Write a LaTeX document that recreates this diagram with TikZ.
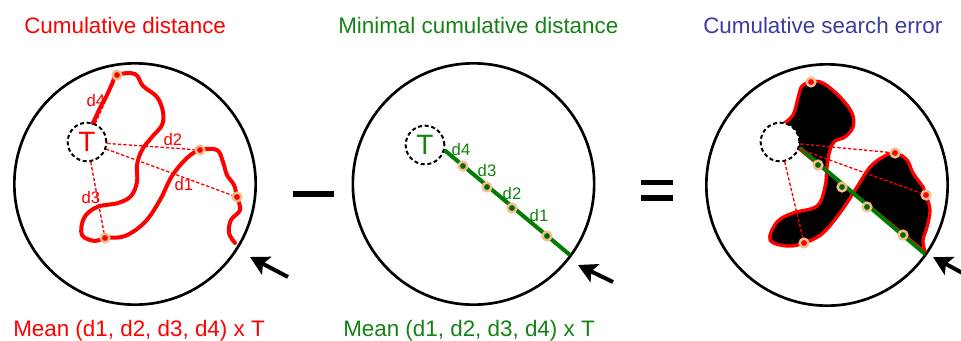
\documentclass[tikz,border=0pt]{standalone}
\usepackage{fontspec}
\setmainfont{Liberation Sans}
\usetikzlibrary{arrows.meta,positioning}
\definecolor{myred}{RGB}{255,0,0}
\definecolor{mygreen}{RGB}{20,130,20}
\definecolor{lgreen}{RGB}{0,125,0}
\definecolor{myblue}{RGB}{60,60,160}
\definecolor{peach}{RGB}{245,190,140}

\tikzset{
  zone/.style={circle,draw,line width=2pt,minimum size=181pt,inner sep=0pt},
  target/.style={circle,draw,dash pattern=on 3pt off 2pt,line width=1.5pt,
    minimum size=29pt,inner sep=0pt,font=\fontsize{21}{21}\selectfont},
  reddot/.style={circle,fill=myred,draw=peach,line width=1.8pt,minimum size=6.5pt,inner sep=0pt},
  greendot/.style={circle,fill=lgreen!85!black,draw=peach,line width=1.8pt,minimum size=6.5pt,inner sep=0pt},
  dist/.style={myred,line width=1pt,dash pattern=on 2.5pt off 1.5pt},
  dlabel/.style={font=\fontsize{12.5}{13}\selectfont,inner sep=0pt},
  pointer/.style={line width=3pt,-{Stealth[length=14pt,width=15pt,inset=3pt]}},
  caption/.style={font=\fontsize{16.8}{20}\selectfont,anchor=base west,inner sep=0pt}
}

\begin{document}
\begin{tikzpicture}[x=0.75pt,y=-0.75pt]
  \useasboundingbox (0,0) rectangle (961,340);

  % titles and captions
  \node[caption,myred] (ltitle) at (24,33) {Cumulative distance};
  \node[caption,mygreen] (mtitle) at (338,33) {Minimal cumulative distance};
  \node[caption,myblue] (rtitle) at (703,33) {Cumulative search error};
  \node[caption,myred] (lmean) at (13,336) {Mean (d1, d2, d3, d4) x T};
  \node[caption,mygreen] (mmean) at (343,336) {Mean (d1, d2, d3, d4) x T};

  % left: cumulative distance
  \node[zone] (lz) at (135,184) {};
  \draw[myred,line width=3pt,line cap=round,line join=round]
    plot[smooth,tension=0.6] coordinates {(93,123) (100,108) (106,97) (112,84)
      (117,75) (135,74) (143,86) (157,97) (163,112) (162,125) (152,137) (142,150)
      (137,165) (137,182) (131,196) (118,203) (97,207) (84,218) (82,235) (95,241)
      (105,238) (125,236) (145,222) (160,200) (172,176) (187,158) (200,150)
      (217,150) (223,162) (227,175) (234,185) (237,197) (240,210) (231,220)
      (229,233) (235,243)};
  \node[reddot] (l4) at (117,75) {};
  \node[reddot] (l2) at (200,150) {};
  \node[reddot] (l1) at (237,197) {};
  \node[reddot] (l3) at (105,238) {};
  \node[target,text=myred] (lT) at (87,142) {T};
  \draw[dist] (lT) -- (l4);
  \draw[dist] (lT) -- (l2);
  \draw[dist] (lT) -- (l1);
  \draw[dist] (lT) -- (l3);
  \node[dlabel,myred] (ld4) at (96,101) {d4};
  \node[dlabel,myred] (ld2) at (173,140) {d2};
  \node[dlabel,myred] (ld1) at (184,185) {d1};
  \node[dlabel,myred] (ld3) at (91,198) {d3};
  \coordinate (ltail) at (288,277);
  \coordinate (ltip) at (250,257);
  \draw[pointer] (ltail) -- (ltip);

  \draw[line width=4.5pt] (293,194) -- (334,194);

  % middle: minimal cumulative distance
  \node[zone] (mz) at (473.5,184) {};
  \node[target,text=mygreen,fill=white] (mT) at (425,145) {T};
  \coordinate (mend) at (570,255);
  \draw[lgreen,line width=3pt] (mT.-15) -- (mend);
  \node[greendot] (m4) at (463,166) {};
  \node[greendot] (m3) at (487,187) {};
  \node[greendot] (m2) at (512,208) {};
  \node[greendot] (m1) at (547,236) {};
  \node[dlabel,mygreen] (md4) at (461,150) {d4};
  \node[dlabel,mygreen] (md3) at (487,171) {d3};
  \node[dlabel,mygreen] (md2) at (512,194) {d2};
  \node[dlabel,mygreen] (md1) at (539,216) {d1};
  \coordinate (mtail) at (613,282);
  \coordinate (mtip) at (578,265);
  \draw[pointer] (mtail) -- (mtip);

  \draw[line width=4pt] (641,182.5) -- (673,182.5);
  \draw[line width=4pt] (641,198) -- (673,198);

  % right: cumulative search error
  \node[zone] (rz) at (827,185) {};
  \coordinate (rg) at (797,147);
  \draw[myred,line width=2.5pt,line join=round,fill=black]
    plot[smooth,tension=0.6] coordinates {(783,124) (793,115) (798,98) (802,86)
      (811,82) (823,83) (840,97) (852,113) (853,127) (845,137) (835,141) (830,150)
      (827,167) (825,187) (817,206) (793,213) (777,222) (770,240) (787,246)
      (804,243) (823,233) (842,210) (857,187) (870,167) (883,157) (895,153)
      (907,160) (913,173) (923,187) (926,195) (930,210) (927,227) (923,240)
      (925,252)} -- (rg) -- cycle;
  \node[target,fill=white] (rT) at (780,142) {};
  \coordinate (rend) at (925,254);
  \draw[lgreen,line width=3pt] (rT.-16) -- (rend);
  \node[reddot] (r4) at (811,82) {};
  \node[reddot] (r2) at (895,153) {};
  \node[reddot] (r1) at (926,195) {};
  \node[reddot] (r3) at (804,243) {};
  \draw[dist] (rT) -- (r2);
  \draw[dist] (rT) -- (r1);
  \draw[dist] (rT) -- (r3);
  \node[greendot] (g4) at (818,165) {};
  \node[greendot] (g3) at (842,187) {};
  \node[greendot] (g2) at (867,207) {};
  \node[greendot] (g1) at (903,235) {};
  \coordinate (rtail) at (968,276);
  \coordinate (rtip) at (933,257);
  \draw[pointer] (rtail) -- (rtip);
\end{tikzpicture}
\end{document}
